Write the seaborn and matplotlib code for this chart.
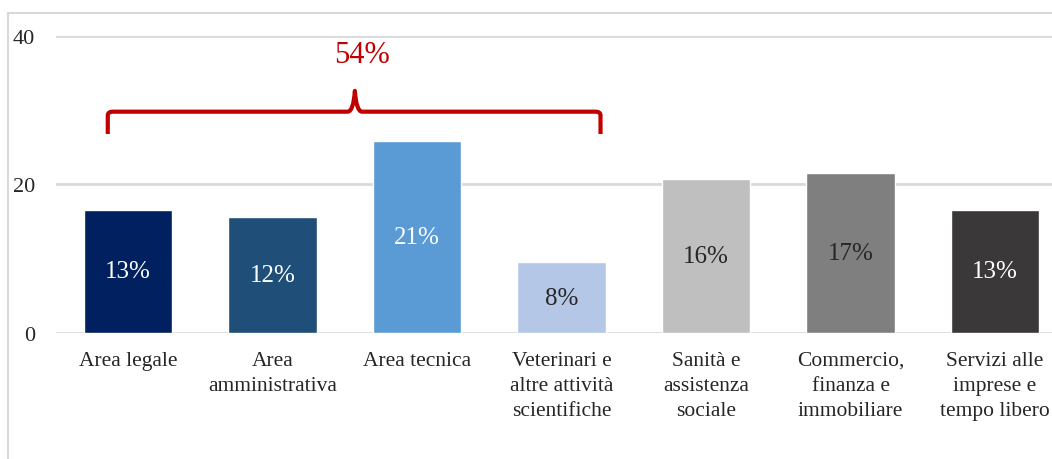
import matplotlib.pyplot as plt
import matplotlib.patches as mpatches
from matplotlib.path import Path
import pandas as pd
import seaborn as sns

categories = ['Area legale', 'Area\namministrativa', 'Area tecnica',
              'Veterinari e\naltre attività\nscientifiche', 'Sanità e\nassistenza\nsociale',
              'Commercio,\nfinanza e\nimmobiliare', 'Servizi alle\nimprese e\ntempo libero']
values = [16.6, 15.6, 25.9, 9.5, 20.7, 21.5, 16.6]
shares = [13, 12, 21, 8, 16, 17, 13]
colors = ['#002060', '#1F4E79', '#5B9BD5', '#B4C7E7', '#BFBFBF', '#7F7F7F', '#3A3838']
label_colors = ['white', 'white', 'white', '#262626', '#262626', '#262626', 'white']
bracket_group = [0, 1, 2, 3]  # categories covered by the red brace

sns.set_theme(style='white')
plt.rcParams['font.family'] = ['Liberation Serif', 'DejaVu Serif']

df = pd.DataFrame({'cat': categories, 'val': values})

fig = plt.figure(figsize=(10.52, 4.6), dpi=100)
ax = fig.add_axes([0.053, 0.274, 0.9615, 0.6457])

sns.barplot(data=df, x='cat', y='val', hue='cat', palette=colors, legend=False,
            width=0.61, saturation=1, ax=ax, zorder=3)

ax.set_ylim(0, 40)
ax.set_yticks([0, 20, 40])
ax.yaxis.grid(True, color='#D9D9D9', linewidth=2, zorder=0)
ax.set_axisbelow(True)
for s in ax.spines.values():
    s.set_visible(False)
ax.set_xlabel('')
ax.set_ylabel('')
ax.tick_params(axis='y', labelsize=16, pad=15, length=0, labelcolor='#262626')
ax.tick_params(axis='x', labelsize=15.5, pad=13, length=0, labelcolor='#262626')
for t in ax.get_xticklabels():
    t.set_linespacing(1.42)

# percentages in the middle of the bars
for i, (v, p) in enumerate(zip(values, shares)):
    ax.text(i, v / 2, f'{p}%', ha='center', va='center', fontsize=18,
            color=label_colors[i], zorder=4)

# red curly brace over the first group
x0 = bracket_group[0] - 0.14
x1 = bracket_group[-1] + 0.27
xm = 1.57
yb, yl, yt = 26.8, 29.8, 32.6
verts = [(x0, yb), (x0, yl - 0.5), (x0, yl), (x0 + 0.035, yl),
         (xm - 0.05, yl), (xm - 0.01, yl), (xm, yt),
         (xm + 0.01, yl), (xm + 0.05, yl),
         (x1 - 0.035, yl), (x1, yl), (x1, yl - 0.5), (x1, yb)]
codes = [Path.MOVETO, Path.LINETO, Path.CURVE3, Path.CURVE3,
         Path.LINETO, Path.CURVE3, Path.CURVE3, Path.CURVE3, Path.CURVE3,
         Path.LINETO, Path.CURVE3, Path.CURVE3, Path.LINETO]
ax.add_patch(mpatches.PathPatch(Path(verts, codes), fill=False, edgecolor='#C00000',
                                linewidth=3, capstyle='butt', joinstyle='round',
                                clip_on=False, zorder=5))
ax.text(xm + 0.05, 37.5, f'{sum(shares[i] for i in bracket_group)}%', ha='center',
        va='center', fontsize=22, color='#C00000')

# outer chart frame
fig.add_artist(plt.Line2D([8 / 1052, 8 / 1052], [0, 1 - 14 / 460], color='#D9D9D9',
                          linewidth=1.5, transform=fig.transFigure))
fig.add_artist(plt.Line2D([8 / 1052, 1], [1 - 14 / 460, 1 - 14 / 460], color='#D9D9D9',
                          linewidth=1.5, transform=fig.transFigure))

fig.savefig('out.png', dpi=100)
